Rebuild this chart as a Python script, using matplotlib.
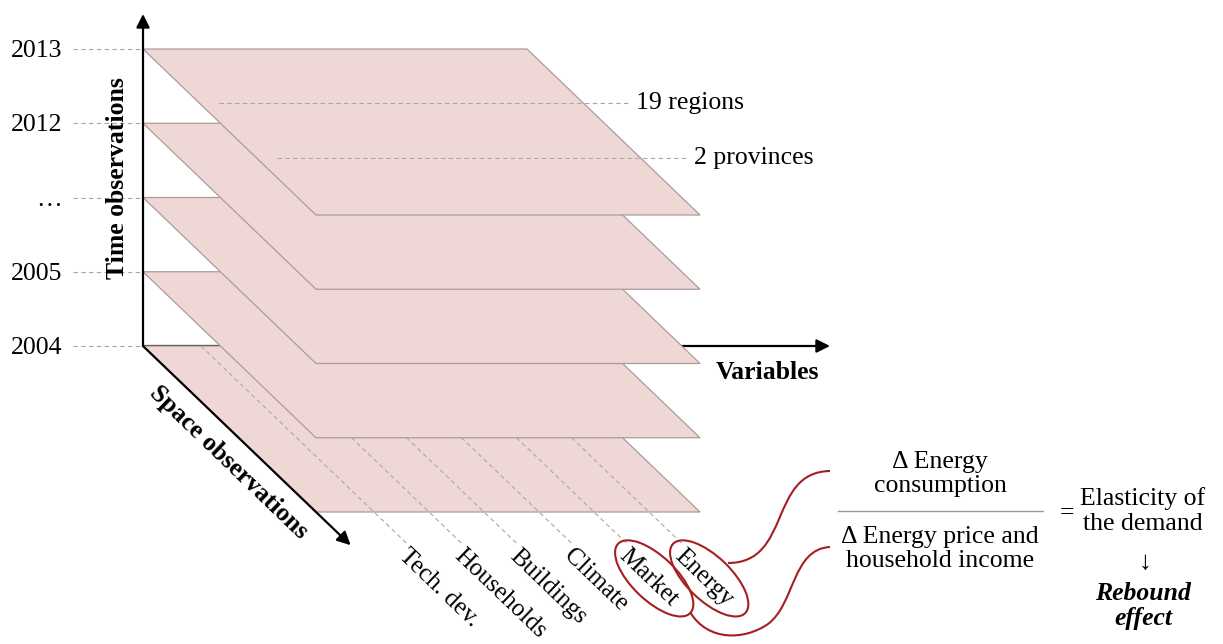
import numpy as np
import matplotlib.pyplot as plt
from matplotlib.patches import Polygon, Ellipse, PathPatch
from matplotlib.path import Path

# Panel layers (time), variables (columns) and space units
years = ['2004', '2005', '…', '2012', '2013']
variables = ['Tech. dev.', 'Households', 'Buildings', 'Climate', 'Market', 'Energy']
highlighted = ['Market', 'Energy']
space_units = ['19 regions', '2 provinces']
space_depth = [0.325, 0.657]  # depth of the unit lines on the top layer

numerator = 'Δ Energy\nconsumption'
denominator = 'Δ Energy price and\nhousehold income'
result = 'Elasticity of\nthe demand'
outcome = 'Rebound\neffect'

# oblique projection of the data cube (pixel units)
origin = (143, 346)
level_step = 74.25
depth_vec = (173, 166)
plane_width = 384
var_offset = 58
var_step = 55

pink = '#efd7d5'
edge = '#ab9c9b'
dash = '#a8a8a8'
red = '#a51e22'


def proj(v, t, s):
    return (origin[0] + v + s * depth_vec[0],
            origin[1] - t * level_step + s * depth_vec[1])


plt.rcParams['font.family'] = ['Liberation Serif', 'DejaVu Serif']
plt.rcParams['font.size'] = 18.5

fig = plt.figure(figsize=(12.23, 6.44), dpi=100)
ax = fig.add_axes([0, 0, 1, 1])
ax.set_xlim(0, 1223)
ax.set_ylim(644, 0)
ax.axis('off')

ang = -np.degrees(np.arctan2(depth_vec[1], depth_vec[0]))
arrow = dict(arrowstyle='-|>', color='k', lw=1.6, mutation_scale=20,
             shrinkA=0, shrinkB=0)

# variables axis (behind the layers)
ax.annotate('', xy=proj(687, 0, 0), xytext=proj(0, 0, 0),
            arrowprops=arrow, zorder=1)
ax.text(767, 372, 'Variables', fontweight='bold', ha='center', va='center')

# layers, bottom (2004) first
for t, yr in enumerate(years):
    corners = [proj(0, t, 0), proj(plane_width, t, 0),
               proj(plane_width, t, 1), proj(0, t, 1)]
    ax.add_patch(Polygon(corners, closed=True, facecolor=pink,
                         edgecolor=edge, lw=0.9, zorder=2 + 2 * t))
    x0, y0 = proj(0, t, 0)
    ax.plot([73, x0], [y0, y0], ls=(0, (4, 3)), color=dash, lw=0.8, zorder=1)
    ax.text(62, y0 + 2, yr, ha='right', va='center')

    if t == 0:
        # variable lines run across the bottom layer
        for i, name in enumerate(variables):
            v = var_offset + i * var_step
            xs, ys = zip(proj(v, 0, 0), proj(v, 0, 1.19))
            ax.plot(xs, ys, ls=(0, (4, 3)), color=dash, lw=0.8, zorder=3)
            lx, ly = proj(v - 14, 0, 1.245)
            ax.text(lx, ly, name, rotation=ang, rotation_mode='anchor',
                    ha='left', va='center', fontsize=18, zorder=9)
            if name in highlighted:
                cx, cy = proj(v - 9, 0, 1.40)
                ax.add_patch(Ellipse((cx, cy), 100, 44, angle=-ang,
                                     facecolor='none', edgecolor=red,
                                     lw=1.5, zorder=9))

# space units on the top layer
top = len(years) - 1
for name, s in zip(space_units, space_depth):
    xa, ya = proj(20, top, s)
    xb, yb = proj(430, top, s)
    ax.plot([xa, xb], [ya, yb], ls=(0, (4, 3)), color=dash, lw=0.8, zorder=12)
    ax.text(xb + 7, yb, name, ha='left', va='center')

# time axis
ax.annotate('', xy=(origin[0], 14), xytext=origin, arrowprops=arrow,
            zorder=13)
ax.text(117, 178, 'Time observations', rotation=90, fontweight='bold',
        ha='center', va='center')

# space axis
ax.annotate('', xy=proj(0, 0, 1.2), xytext=origin, arrowprops=arrow,
            zorder=13)
sx, sy = proj(-35, 0, 0.7)
ax.text(sx, sy, 'Space observations', rotation=ang, fontweight='bold',
        ha='center', va='center')

# connectors from the highlighted variables to the ratio
c1 = Path([(728, 563), (792, 563), (768, 472), (830, 471)],
          [Path.MOVETO, Path.CURVE4, Path.CURVE4, Path.CURVE4])
c2 = Path([(690, 612), (708, 642), (745, 640), (768, 624),
           (795, 604), (792, 549), (830, 547)],
          [Path.MOVETO, Path.CURVE4, Path.CURVE4, Path.CURVE4,
           Path.CURVE4, Path.CURVE4, Path.CURVE4])
for c in (c1, c2):
    ax.add_patch(PathPatch(c, facecolor='none', edgecolor=red, lw=1.5,
                           zorder=9))

# ratio
ax.plot([838, 1043], [511, 511], color='#999999', lw=1.0)
ax.text(940, 474, numerator, ha='center', va='center', linespacing=1.15)
ax.text(940, 549, denominator, ha='center', va='center', linespacing=1.15)
ax.text(1067, 513, '=', ha='center', va='center')
ax.text(1143, 511, result, ha='center', va='center', linespacing=1.15)
ax.text(1145, 563, '↓', ha='center', va='center')
ax.text(1143, 606, outcome, ha='center', va='center', fontweight='bold',
        fontstyle='italic', linespacing=1.15)

fig.savefig('out.png', dpi=100)
